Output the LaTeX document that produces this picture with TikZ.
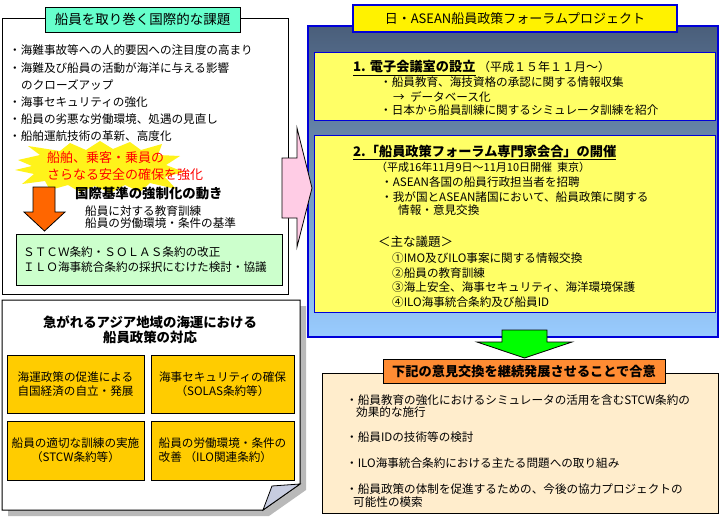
\documentclass[tikz,border=0pt]{standalone}
\usepackage{fontspec}
\setmainfont{Noto Sans CJK JP}
\usepackage{tikz}
\usetikzlibrary{positioning,shapes,arrows.meta,backgrounds}
\definecolor{TitleGreen}{rgb}{0.4,1,0.8}
\definecolor{PaleGreen}{rgb}{0.8,1,0.8}
\definecolor{Gold}{rgb}{1,0.8,0}
\definecolor{PaleYellow}{rgb}{1,1,0.4}
\definecolor{PinkArrow}{rgb}{1,0.8,0.9}
\definecolor{Peach}{rgb}{1,0.93,0.8}
\definecolor{OrangeTitle}{rgb}{1,0.55,0.2}
\definecolor{Burnt}{rgb}{1,0.4,0}
\definecolor{SlateTop}{rgb}{0.29,0.37,0.48}
\definecolor{SkyBottom}{rgb}{0.6,0.8,1}
\definecolor{DeepBlue}{rgb}{0,0,0.85}
\definecolor{FlapBlue}{rgb}{0.78,0.8,0.88}
\newcommand{\fsz}[2]{\fontsize{#1}{#2}\selectfont}
\tikzstyle{frame}=[%
      rectangle, draw=black, line width=1pt, fill=white, inner sep=0pt
]
\tikzstyle{greentitle}=[%
      rectangle, draw=black, line width=1pt, fill=TitleGreen, inner sep=0pt, font=\fsz{13.5}{15}
]
\tikzstyle{greenbox}=[%
      rectangle, draw=black, line width=1pt, fill=PaleGreen, inner sep=0pt
]
\tikzstyle{goldbox}=[%
      rectangle, draw=black, line width=1pt, fill=Gold, inner sep=0pt, align=center, font=\fsz{11.6}{14}
]
\tikzstyle{forumpanel}=[%
      rectangle, draw=DeepBlue, line width=2pt, top color=SlateTop, bottom color=SkyBottom, inner sep=0pt
]
\tikzstyle{forumtitle}=[%
      rectangle, draw=DeepBlue, line width=2pt, fill=yellow, inner sep=0pt, font=\fsz{13}{15}
]
\tikzstyle{pbox}=[%
      rectangle, draw=DeepBlue, line width=1pt, fill=PaleYellow, inner sep=0pt
]
\tikzstyle{agreebox}=[%
      rectangle, draw=black, line width=1pt, fill=Peach, inner sep=0pt
]
\tikzstyle{agreetitle}=[%
      rectangle, draw=black, line width=1pt, fill=OrangeTitle, inner sep=0pt, font=\bfseries\fsz{13.2}{15}
]
\tikzstyle{txt}=[%
      anchor=west, inner sep=0pt, font=\fsz{11.6}{14}
]
\tikzstyle{redtxt}=[%
      anchor=west, inner sep=0pt, text=red, font=\fsz{13}{15}
]
\tikzstyle{boldtxt}=[%
      anchor=center, inner sep=0pt, font=\bfseries\fsz{13.4}{15}
]
\tikzstyle{blockarrow}=[%
      draw=black, line width=0.8pt
]

\begin{document}
\begin{tikzpicture}[x=1pt, y=-1pt]
    \useasboundingbox (0,0) rectangle (720,522);

    % left: issues
    \node[frame, minimum width=286, minimum height=276, anchor=north west] (issues) at (2,18) {};
    \node[greentitle, minimum width=195, minimum height=25] (issuestitle) at (142.5,19.5) {船員を取り巻く国際的な課題};
    \node[txt] (iss1) at (9,50) {・海難事故等への人的要因への注目度の高まり};
    \node[txt] (iss2) at (9,68) {・海難及び船員の活動が海洋に与える影響};
    \node[txt] (iss3) at (21,85) {のクローズアップ};
    \node[txt] (iss4) at (9,102) {・海事セキュリティの強化};
    \node[txt] (iss5) at (9,119) {・船員の劣悪な労働環境、処遇の見直し};
    \node[txt] (iss6) at (9,136) {・船舶運航技術の革新、高度化};

    \fill[yellow!90!white] (18,160) -- (40,155) -- (28,146) -- (60,151) -- (70,143) -- (86,150)
        -- (100,141) -- (113,149) -- (130,142) -- (141,150) -- (162,144) -- (158,155)
        -- (180,156) -- (166,165) -- (184,172) -- (165,177) -- (176,189) -- (150,183)
        -- (140,192) -- (125,185) -- (110,193) -- (95,186) -- (80,192) -- (68,185)
        -- (50,190) -- (45,181) -- (22,184) -- (34,174) -- (15,170) -- (32,166) -- cycle;
    \node[redtxt] (safety1) at (47,158) {船舶、乗客・乗員の};
    \node[redtxt] (safety2) at (47,175) {さらなる安全の確保を強化};

    \draw[blockarrow, fill=Burnt] (33,187) -- (55,187) -- (55,212) -- (65,212) -- (44.5,231)
        -- (24,212) -- (33,212) -- cycle;
    \node[boldtxt, anchor=west] (trend) at (75,193) {国際基準の強制化の動き};
    \node[txt] (trend1) at (85,211) {船員に対する教育訓練};
    \node[txt] (trend2) at (85,223) {船員の労働環境・条件の基準};

    \node[greenbox, minimum width=266, minimum height=51, anchor=north west] (treaty) at (16,234) {};
    \node[txt] (treaty1) at (23,252) {ＳＴＣＷ条約・ＳＯＬＡＳ条約の改正};
    \node[txt] (treaty2) at (23,267) {ＩＬＯ海事統合条約の採択にむけた検討・協議};

    % left: asia page
    \fill[gray!55, shift={(6,6)}] (2,300) -- (300,300) -- (300,484) -- (263,510) -- (2,510) -- cycle;
    \draw[line width=1pt, fill=white] (2,300) -- (300,300) -- (300,484) -- (263,510) -- (2,510) -- cycle;
    \draw[line width=0.8pt, fill=FlapBlue] (263,510) -- (272,486) -- (300,484) -- cycle;
    \node[boldtxt] (asia) at (150,322) {急がれるアジア地域の海運における};
    \node[boldtxt] (asiab) at (150,337) {船員政策の対応};
    \node[goldbox, minimum width=137, minimum height=58] (asia1) at (75.5,384) {海運政策の促進による\\自国経済の自立・発展};
    \node[goldbox, minimum width=143, minimum height=58] (asia2) at (222.5,384) {海事セキュリティの確保\\（SOLAS条約等）};
    \node[goldbox, minimum width=137, minimum height=59] (asia3) at (75.5,450.5) {船員の適切な訓練の実施\\（STCW条約等）};
    \node[goldbox, minimum width=143, minimum height=59, align=left] (asia4) at (222.5,450.5) {船員の労働環境・条件の\\改善\ （ILO関連条約）};

    % right: forum project
    \node[forumpanel, minimum width=410, minimum height=311, anchor=north west] (forum) at (307,25) {};
    \node[forumtitle, minimum width=324, minimum height=27] (forumtitle) at (515,18.5) {日・ASEAN船員政策フォーラムプロジェクト};

    \node[pbox, minimum width=401, minimum height=68, anchor=north west] (room) at (314,52) {};
    \node[txt, font=\fsz{12}{14}] (roomtitle) at (353,68) {{\bfseries\fsz{13.2}{15}\underline{1. 電子会議室の設立}}\ （平成１５年１１月～）};
    \node[txt] (room1) at (380,82) {・船員教育、海技資格の承認に関する情報収集};
    \node[txt] (room2) at (393,97) {→\ \ データベース化};
    \node[txt] (room3) at (380,110) {・日本から船員訓練に関するシミュレータ訓練を紹介};

    \node[pbox, minimum width=401, minimum height=177, anchor=north west] (meeting) at (314,135) {};
    \node[txt, font=\bfseries\fsz{13.2}{15}] (meettitle) at (353,152) {\underline{2.「船員政策フォーラム専門家会合」の開催}};
    \node[txt, font=\fsz{11}{13}] (meetdate) at (376,167) {（平成16年11月9日～11月10日開催\ \ 東京）};
    \node[txt] (meet1) at (381,182) {・ASEAN各国の船員行政担当者を招聘};
    \node[txt] (meet2) at (381,197) {・我が国とASEAN諸国において、船員政策に関する};
    \node[txt] (meet3) at (398,210) {情報・意見交換};
    \node[txt, font=\fsz{12.5}{14}] (topics) at (378,242) {＜主な議題＞};
    \node[txt] (topic1) at (392,258) {①IMO及びILO事案に関する情報交換};
    \node[txt] (topic2) at (392,273) {②船員の教育訓練};
    \node[txt] (topic3) at (392,287) {③海上安全、海事セキュリティ、海洋環境保護};
    \node[txt] (topic4) at (392,302) {④ILO海事統合条約及び船員ID};

    % pink and green arrows
    \draw[blockarrow, fill=PinkArrow] (282,158) -- (297,158) -- (297,128) -- (312,188) -- (297,247)
        -- (297,218) -- (282,218) -- cycle;
    \draw[blockarrow, fill=green] (502,330) -- (547,330) -- (547,342) -- (572,342) -- (524.5,358)
        -- (477,342) -- (502,342) -- cycle;

    % right: agreement
    \node[agreebox, minimum width=396, minimum height=140, anchor=north west] (agree) at (322,373) {};
    \node[agreetitle, minimum width=282, minimum height=24] (agreetitle) at (524,371) {下記の意見交換を継続発展させることで合意};
    \node[txt] (agree1) at (346,400) {・船員教育の強化におけるシミュレータの活用を含むSTCW条約の};
    \node[txt] (agree1b) at (356,412) {効果的な施行};
    \node[txt] (agree2) at (346,437) {・船員IDの技術等の検討};
    \node[txt] (agree3) at (346,463) {・ILO海事統合条約における主たる問題への取り組み};
    \node[txt] (agree4) at (346,489) {・船員政策の体制を促進するための、今後の協力プロジェクトの};
    \node[txt] (agree4b) at (353,502) {可能性の模索};
\end{tikzpicture}
\end{document}
